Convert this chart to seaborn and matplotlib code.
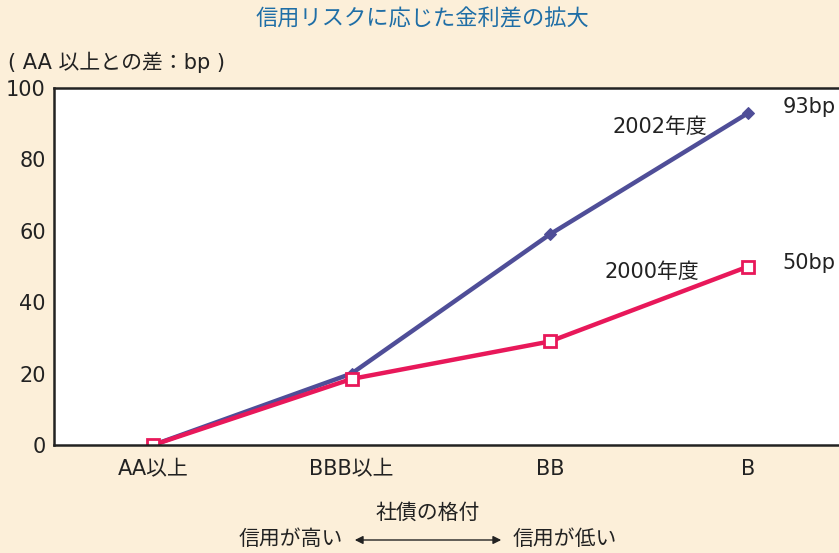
import matplotlib
matplotlib.use("Agg")
import matplotlib.pyplot as plt
import seaborn as sns
import pandas as pd

categories = ["AA以上", "BBB以上", "BB", "B"]
values_2002 = [0, 20, 59, 93]
values_2000 = [0, 18.5, 29, 50]
series_names = ["2002年度", "2000年度"]
yticks = [0, 20, 40, 60, 80, 100]

sns.set_style("white")
plt.rcParams['font.family'] = ['DejaVu Sans', 'Noto Sans CJK JP']

bg = "#fcefd9"
blue = "#4f4e98"
red = "#e8185a"
txt = "#222222"
fs = 15

df = pd.DataFrame({
    "x": list(range(len(categories))) * 2,
    "y": values_2002 + values_2000,
    "s": [series_names[0]] * 4 + [series_names[1]] * 4,
})

fig = plt.figure(figsize=(8.39, 5.53), dpi=100, facecolor=bg)
ax = fig.add_axes([54/839, 1-445/553, (839-54)/839 + 0.01, (445-88)/553])
ax.set_facecolor("white")

sns.lineplot(data=df[df.s == series_names[0]], x="x", y="y", ax=ax, color=blue,
             linewidth=3.2, marker="D", markersize=6.5, markeredgecolor=blue,
             markerfacecolor=blue, legend=False)
sns.lineplot(data=df[df.s == series_names[1]], x="x", y="y", ax=ax, color=red,
             linewidth=3.2, marker="s", markersize=8, markeredgecolor=red,
             markerfacecolor="white", markeredgewidth=2, legend=False)

ax.set_xlim(-0.5, 3.5)
ax.set_ylim(0, 100)
ax.set_yticks(yticks)
ax.set_yticklabels([str(v) for v in yticks], fontsize=fs)
ax.set_xticks([0.5, 1.5, 2.5])
ax.set_xticklabels([])
ax.tick_params(axis="y", direction="in", length=5, width=1, colors=txt, pad=6)
ax.tick_params(axis="x", direction="in", length=6, width=1, colors=txt)
for i, c in enumerate(categories):
    ax.text(i, -4.0, c, ha="center", va="top", fontsize=fs, color=txt)
ax.set_xlabel("")
ax.set_ylabel("")
for sp in ["left", "bottom", "top"]:
    ax.spines[sp].set_visible(True)
    ax.spines[sp].set_color(txt)
    ax.spines[sp].set_linewidth(1.8)
ax.spines["right"].set_visible(False)

ax.text(2.557, 89.1, "2002年度", ha="center", va="center", fontsize=fs, color=txt)
ax.text(3.308, 94.7, "93bp", ha="center", va="center", fontsize=fs, color=txt)
ax.text(2.516, 48.5, "2000年度", ha="center", va="center", fontsize=fs, color=txt)
ax.text(3.308, 51.0, "50bp", ha="center", va="center", fontsize=fs, color=txt)

fig.text(422/839, 1-19/553, "信用リスクに応じた金利差の拡大", ha="center", va="center",
         fontsize=16, color="#1f6ea6")
fig.text(8/839, 1-62/553, "( AA 以上との差：bp )", ha="left", va="center",
         fontsize=fs, color=txt)
fig.text(428/839, 1-513/553, "社債の格付", ha="center", va="center", fontsize=fs, color=txt)
fig.text(343/839, 1-539/553, "信用が高い", ha="right", va="center", fontsize=fs, color=txt)
fig.text(513/839, 1-539/553, "信用が低い", ha="left", va="center", fontsize=fs, color=txt)
fig.patches.append(matplotlib.patches.FancyArrowPatch(
    (352/839, 1-540/553), (504/839, 1-540/553), transform=fig.transFigure,
    arrowstyle="<|-|>", mutation_scale=12, color=txt, linewidth=1))

fig.savefig("out.png", dpi=100, facecolor=bg)
